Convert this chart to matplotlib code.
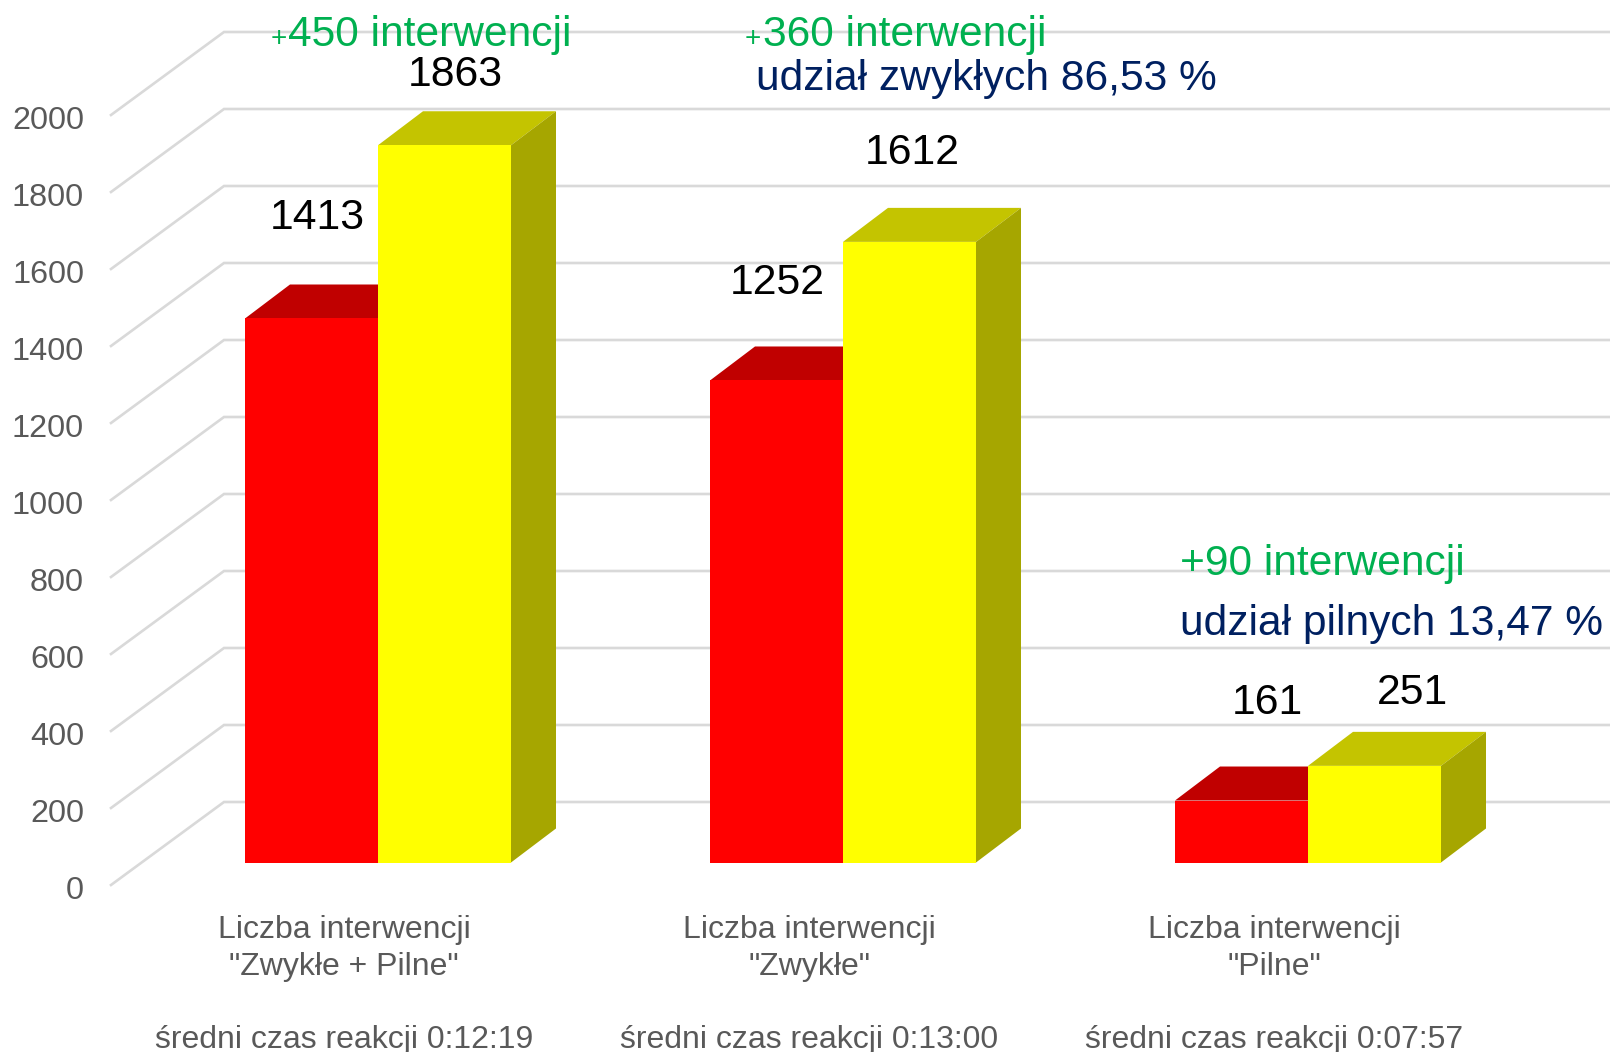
import matplotlib
matplotlib.use("Agg")
import matplotlib.pyplot as plt

plt.rcParams['font.family'] = ['Liberation Sans', 'DejaVu Sans']

# data
categories = ['Liczba interwencji\n"Zwykłe + Pilne"', 'Liczba interwencji\n"Zwykłe"', 'Liczba interwencji\n"Pilne"']
reaction_times = ['średni czas reakcji 0:12:19', 'średni czas reakcji 0:13:00', 'średni czas reakcji 0:07:57']
red_values = [1413, 1252, 161]
yellow_values = [1863, 1612, 251]
ticks = [0, 200, 400, 600, 800, 1000, 1200, 1400, 1600, 1800, 2000]

W, H = 1610, 1052
PX_PER_VALUE = 0.385
PX_PER_CAT = 465
BAR_W = 133 / PX_PER_CAT
BASE_Y = 862.5  # pixel row of value 0 on the bar front
MID_X = 378     # pixel column where the bars of group 0 meet


def val(py):
    return (BASE_Y - py) / PX_PER_VALUE


def cat(px):
    return (px - MID_X) / PX_PER_CAT


# depth of bars and of the floor, in data units
bar_dx, bar_dy = 45 / PX_PER_CAT, 34 / PX_PER_VALUE
wall_x, front_x = cat(224), cat(111)
wall_shift, front_shift = val(802), val(885)

fig = plt.figure(figsize=(W / 100, H / 100), dpi=100, facecolor='white')
ax = fig.add_axes([0, 0, 1, 1])
ax.set_xlim(cat(0), cat(W))
ax.set_ylim(val(H), val(0))
ax.axis('off')

# gridlines: front edge to back wall, then along the wall
for t in ticks:
    ax.plot([front_x, wall_x, cat(W)], [t + front_shift, t + wall_shift, t + wall_shift],
            color='#D9D9D9', lw=1.9, solid_joinstyle='miter', zorder=1)


def draw_bar(x, value, front, top, side, z):
    ax.bar(x, value, width=BAR_W, align='edge', color=front, linewidth=0, zorder=z + 0.2)
    ax.fill([x, x + BAR_W, x + BAR_W + bar_dx, x + bar_dx],
            [value, value, value + bar_dy, value + bar_dy], color=top, linewidth=0, zorder=z)
    ax.fill([x + BAR_W, x + BAR_W + bar_dx, x + BAR_W + bar_dx, x + BAR_W],
            [0, bar_dy, value + bar_dy, value], color=side, linewidth=0, zorder=z)


for i in range(len(categories)):
    draw_bar(i - BAR_W, red_values[i], '#FF0000', '#C00000', '#A00000', 2)
    draw_bar(i, yellow_values[i], '#FFFF00', '#C4C400', '#A6A600', 3)


def label(px, py, s, **kw):
    fig.text(px / W, 1 - py / H, s, **kw)


# axis labels
for t in ticks:
    label(84, 891 - t * PX_PER_VALUE, str(t), fontsize=23.3, color='#595959', ha='right', va='center')

cat_centers = [344, 809, 1274]
for c, name, rt in zip(cat_centers, categories, reaction_times):
    first, second = name.split('\n')
    label(c, 938, first, fontsize=23, color='#595959', ha='center', va='baseline')
    label(c, 975, second, fontsize=23, color='#595959', ha='center', va='baseline')
    label(c, 1048, rt, fontsize=23, color='#595959', ha='center', va='baseline')

# value labels
value_pos = [(317, 229), (777, 294), (1267, 714)]
for (x, y), v in zip(value_pos, red_values):
    label(x, y, str(v), fontsize=30.8, color='black', ha='center', va='baseline')
value_pos2 = [(455, 86), (912, 164), (1412, 704)]
for (x, y), v in zip(value_pos2, yellow_values):
    label(x, y, str(v), fontsize=30.8, color='black', ha='center', va='baseline')

# annotations
GREEN, NAVY = '#00B050', '#002060'
label(271, 46, '+', fontsize=20, color=GREEN, va='baseline')
label(288.5, 46, '450 interwencji', fontsize=30.6, color=GREEN, va='baseline')
label(745, 46, '+', fontsize=20, color=GREEN, va='baseline')
label(763, 46, '360 interwencji', fontsize=30.6, color=GREEN, va='baseline')
label(756, 90, 'udział zwykłych 86,53 %', fontsize=30.6, color=NAVY, va='baseline')
label(1179.5, 575, '+90 interwencji', fontsize=30.6, color=GREEN, va='baseline')
label(1179.5, 635, 'udział pilnych 13,47 %', fontsize=30.6, color=NAVY, va='baseline')

fig.savefig('out.png', dpi=100)
